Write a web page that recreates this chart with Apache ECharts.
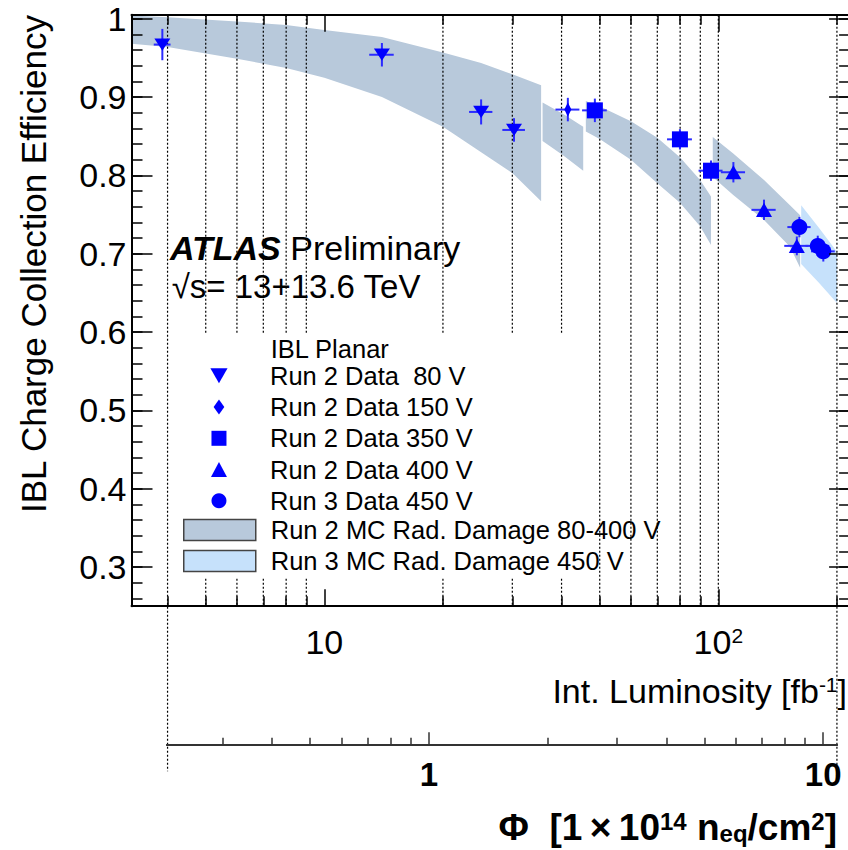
<!DOCTYPE html>
<html>
<head>
<meta charset="utf-8">
<title>IBL Charge Collection Efficiency</title>
<script src="https://cdn.jsdelivr.net/npm/echarts@6.0.0/dist/echarts.min.js"></script>
<style>
  html, body { margin: 0; padding: 0; background: #ffffff; }
  #chart { width: 848px; height: 850px; }
</style>
</head>
<body>
<div id="chart"></div>
<script>
// ---------------------------------------------------------------------------
// Axis ranges and tick values
// ---------------------------------------------------------------------------
const LUMI_MIN = 3.24, LUMI_MAX = 216;      // integrated luminosity [fb^-1]
const EFF_MIN = 0.25, EFF_MAX = 1.005;      // charge collection efficiency
const LUMI_PER_FLUENCE = 18.45;             // fb^-1 per 1e14 n_eq/cm^2
const FLUENCE_MIN = 4 / LUMI_PER_FLUENCE;
const FLUENCE_MAX = 200 / LUMI_PER_FLUENCE;

const lumiLabelTicks = [10, 100];
const lumiMinorTicks = [4, 5, 6, 7, 8, 9, 20, 30, 40, 50, 60, 70, 80, 90, 200];
const lumiGridLines  = [4, 5, 6, 7, 8, 9, 20, 30, 40, 50, 60, 70, 80, 90, 100, 200];
const connectorLumi  = [4, 200];            // ends of the fluence scale
const effLabelTicks  = [0.3, 0.4, 0.5, 0.6, 0.7, 0.8, 0.9, 1.0];
const fluenceLabelTicks = [1, 10];
const fluenceMinorTicks = [0.3, 0.4, 0.5, 0.6, 0.7, 0.8, 0.9, 2, 3, 4, 5, 6, 7, 8, 9];
const effMinorTicks = [];
for (let i = 13; i <= 50; i++) effMinorTicks.push(+(i * 0.02).toFixed(2));

// ---------------------------------------------------------------------------
// Measured points: luminosity, efficiency and their uncertainties
// ---------------------------------------------------------------------------
const run2v80Lumi    = [3.88, 14.0, 25.0, 30.3];
const run2v80Eff     = [0.967, 0.954, 0.881, 0.858];
const run2v80LumiErr = [0.19, 1.0, 1.7, 2.0];
const run2v80EffErr  = [0.020, 0.015, 0.016, 0.015];

const run2v150Lumi    = [41.5];
const run2v150Eff     = [0.884];
const run2v150LumiErr = [2.9];
const run2v150EffErr  = [0.015];

const run2v350Lumi    = [48.6, 79.9, 95.8];
const run2v350Eff     = [0.883, 0.846, 0.806];
const run2v350LumiErr = [3.5, 5.8, 6.7];
const run2v350EffErr  = [0.015, 0.013, 0.013];

const run2v400Lumi    = [109.2, 130.6, 158.2];
const run2v400Eff     = [0.804, 0.756, 0.710];
const run2v400LumiErr = [7.7, 9.2, 11.2];
const run2v400EffErr  = [0.013, 0.013, 0.012];

const run3v450Lumi    = [160.6, 178.8, 184.7];
const run3v450Eff     = [0.734, 0.710, 0.703];
const run3v450LumiErr = [10.9, 12.4, 12.8];
const run3v450EffErr  = [0.013, 0.013, 0.013];

// ---------------------------------------------------------------------------
// Simulated radiation-damage bands (upper / lower edge), one per bias period
// ---------------------------------------------------------------------------
const mc80Lumi = [3.24, 4, 6, 8, 10, 14, 20, 25, 30, 35.5];
const mc80Hi   = [1.004, 1.002, 0.9964, 0.992, 0.9856, 0.9766, 0.957, 0.9434, 0.929, 0.915];
const mc80Lo   = [0.968, 0.964, 0.949, 0.937, 0.9245, 0.900, 0.862, 0.8295, 0.803, 0.767];

const mc150Lumi = [35.8, 40.5, 45.4];
const mc150Hi   = [0.893, 0.878, 0.862];
const mc150Lo   = [0.844, 0.825, 0.806];

const mc350Lumi = [46.1, 50.1, 60, 70, 79.9, 89.9, 95.8];
const mc350Hi   = [0.895, 0.888, 0.869, 0.848, 0.823, 0.794, 0.773];
const mc350Lo   = [0.856, 0.846, 0.820, 0.790, 0.765, 0.735, 0.711];

const mc400Lumi = [96.8, 109.1, 130.6, 152, 161.3];
const mc400Hi   = [0.849, 0.828, 0.794, 0.762, 0.749];
const mc400Lo   = [0.798, 0.775, 0.743, 0.709, 0.682];

const mc450Lumi = [162.3, 180, 200];
const mc450Hi   = [0.762, 0.733, 0.7025];
const mc450Lo   = [0.687, 0.663, 0.637];

// ---------------------------------------------------------------------------
// Styling
// ---------------------------------------------------------------------------
const FONT = "'Liberation Sans', Arial, Helvetica, sans-serif";
const MARKER_BLUE = '#0000ff';
const ERR_BLUE = '#2b2bff';
const RUN2_BAND = '#b8c9db';
const RUN3_BAND = '#c6e1fb';
const FLUENCE_AXIS_Y = 744.3;

const NAME_80  = 'Run 2 Data \u00a080 V';
const NAME_150 = 'Run 2 Data 150 V';
const NAME_350 = 'Run 2 Data 350 V';
const NAME_400 = 'Run 2 Data 400 V';
const NAME_450 = 'Run 3 Data 450 V';
const NAME_MC2 = 'Run 2 MC Rad. Damage 80-400 V';
const NAME_MC3 = 'Run 3 MC Rad. Damage 450 V';

const dataSets = [
  { name: NAME_80,  lumi: run2v80Lumi,  eff: run2v80Eff,  lumiErr: run2v80LumiErr,  effErr: run2v80EffErr,
    symbol: 'path://M0,0 L16,0 L8,14 Z', size: [16, 14] },
  { name: NAME_150, lumi: run2v150Lumi, eff: run2v150Eff, lumiErr: run2v150LumiErr, effErr: run2v150EffErr,
    symbol: 'path://M5,0 L10,7 L5,14 L0,7 Z', size: [10, 14] },
  { name: NAME_350, lumi: run2v350Lumi, eff: run2v350Eff, lumiErr: run2v350LumiErr, effErr: run2v350EffErr,
    symbol: 'path://M0,0 L16,0 L16,16 L0,16 Z', size: [16, 16] },
  { name: NAME_400, lumi: run2v400Lumi, eff: run2v400Eff, lumiErr: run2v400LumiErr, effErr: run2v400EffErr,
    symbol: 'path://M8,0 L16,15 L0,15 Z', size: [16, 15] },
  { name: NAME_450, lumi: run3v450Lumi, eff: run3v450Eff, lumiErr: run3v450LumiErr, effErr: run3v450EffErr,
    symbol: 'circle', size: [16, 16] }
];

const run2Pieces = [
  { lumi: mc80Lumi,  hi: mc80Hi,  lo: mc80Lo },
  { lumi: mc150Lumi, hi: mc150Hi, lo: mc150Lo },
  { lumi: mc350Lumi, hi: mc350Hi, lo: mc350Lo },
  { lumi: mc400Lumi, hi: mc400Hi, lo: mc400Lo }
];
const run3Pieces = [
  { lumi: mc450Lumi, hi: mc450Hi, lo: mc450Lo }
];

// ---------------------------------------------------------------------------
// Series builders
// ---------------------------------------------------------------------------
function bandSeries(name, color, pieces) {
  return {
    type: 'custom', name: name, xAxisIndex: 0, yAxisIndex: 0, z: 1, clip: true, silent: true,
    itemStyle: { color: color },
    data: pieces.map((p, i) => [p.lumi[0], p.hi[0], i]),
    encode: { x: 0, y: 1 },
    renderItem(params, api) {
      const p = pieces[api.value(2)];
      const pts = p.lumi.map((l, j) => api.coord([l, p.hi[j]]));
      for (let j = p.lumi.length - 1; j >= 0; j--) pts.push(api.coord([p.lumi[j], p.lo[j]]));
      return { type: 'polygon', shape: { points: pts }, style: { fill: color } };
    }
  };
}

const gridLineSeries = {
  type: 'custom', xAxisIndex: 0, yAxisIndex: 0, z: 2, silent: true,
  data: lumiGridLines.map(v => [v, EFF_MAX]),
  encode: { x: 0, y: 1 },
  renderItem(params, api) {
    const v = api.value(0);
    const top = api.coord([v, EFF_MAX]);
    const bot = api.coord([v, EFF_MIN]);
    const y2 = connectorLumi.indexOf(v) >= 0 ? FLUENCE_AXIS_Y + 27 : bot[1];
    return {
      type: 'line',
      shape: { x1: top[0], y1: top[1], x2: top[0], y2: y2 },
      style: { stroke: '#000000', lineWidth: 1.2, lineDash: [2, 2] }
    };
  }
};

const errorRows = [];
dataSets.forEach(d => d.lumi.forEach((l, i) => errorRows.push([l, d.eff[i], d.lumiErr[i], d.effErr[i]])));

const errorBarSeries = {
  type: 'custom', xAxisIndex: 0, yAxisIndex: 0, z: 4, silent: true,
  data: errorRows,
  encode: { x: 0, y: 1 },
  renderItem(params, api) {
    const x = api.value(0), y = api.value(1), ex = api.value(2), ey = api.value(3);
    const c = api.coord([x, y]);
    const xl = api.coord([x - ex, y])[0], xh = api.coord([x + ex, y])[0];
    const yl = api.coord([x, y - ey])[1], yh = api.coord([x, y + ey])[1];
    const st = { stroke: ERR_BLUE, lineWidth: 2 };
    return {
      type: 'group',
      children: [
        { type: 'line', shape: { x1: xl, y1: c[1], x2: xh, y2: c[1] }, style: st },
        { type: 'line', shape: { x1: c[0], y1: yh, x2: c[0], y2: yl }, style: st }
      ]
    };
  }
};

const markerSeries = dataSets.map(d => ({
  type: 'scatter', name: d.name, xAxisIndex: 0, yAxisIndex: 0, z: 5,
  symbol: d.symbol, symbolSize: d.size, symbolKeepAspect: true,
  itemStyle: { color: MARKER_BLUE, opacity: 1 },
  data: d.lumi.map((l, i) => [l, d.eff[i]])
}));

// ---------------------------------------------------------------------------
// Axes
// ---------------------------------------------------------------------------
const AXIS_LINE = { show: true, onZero: false, lineStyle: { color: '#000000', width: 2 } };
const NO_LINE = { show: false };
const NO_SPLIT = { show: false };
const NO_LABEL = { show: false };

function lumiAxis(position, ticks, length, withLine, withLabels) {
  return {
    type: 'log', gridIndex: 0, position: position, min: LUMI_MIN, max: LUMI_MAX, logBase: 10, z: 6,
    axisLine: withLine ? AXIS_LINE : NO_LINE,
    axisTick: { show: true, inside: true, length: length, customValues: ticks,
                lineStyle: { color: '#000000', width: 1.5 } },
    axisLabel: withLabels ? {
      show: true, customValues: lumiLabelTicks, margin: 19,
      formatter: v => Math.round(Math.log10(v)) === 1 ? '{n|10}' : '{n|10}{s|' + Math.round(Math.log10(v)) + '}',
      rich: {
        n: { fontFamily: FONT, fontSize: 34, lineHeight: 34, color: '#000000' },
        s: { fontFamily: FONT, fontSize: 21, lineHeight: 12, verticalAlign: 'top', color: '#000000' }
      }
    } : NO_LABEL,
    splitLine: NO_SPLIT
  };
}

function effAxis(position, ticks, length, withLine, withLabels) {
  return {
    type: 'value', gridIndex: 0, position: position, min: EFF_MIN, max: EFF_MAX, z: 6,
    axisLine: withLine ? AXIS_LINE : NO_LINE,
    axisTick: { show: true, inside: true, length: length, customValues: ticks,
                lineStyle: { color: '#000000', width: 1.5 } },
    axisLabel: withLabels ? {
      show: true, customValues: effLabelTicks, margin: 5,
      fontFamily: FONT, fontSize: 34, color: '#000000',
      formatter: v => Math.abs(v - 1) < 1e-9 ? '1' : v.toFixed(1)
    } : NO_LABEL,
    splitLine: NO_SPLIT
  };
}

function fluenceAxis(ticks, length, withLabels) {
  return {
    type: 'log', gridIndex: 1, position: 'bottom', min: FLUENCE_MIN, max: FLUENCE_MAX, logBase: 10, z: 6,
    axisLine: { show: true, onZero: false, lineStyle: { color: '#333333', width: 2 } },
    axisTick: { show: true, inside: true, length: length, customValues: ticks,
                lineStyle: { color: '#333333', width: 1.5 } },
    axisLabel: withLabels ? {
      show: true, customValues: fluenceLabelTicks, margin: 14,
      fontFamily: FONT, fontSize: 33, fontWeight: 'bold', color: '#000000',
      formatter: v => String(Math.round(v))
    } : NO_LABEL,
    splitLine: NO_SPLIT
  };
}

// ---------------------------------------------------------------------------
// Chart
// ---------------------------------------------------------------------------
const chart = echarts.init(document.getElementById('chart'), null, { renderer: 'svg', width: 848, height: 850 });

const option = {
  animation: false,
  backgroundColor: '#ffffff',
  grid: [
    { left: 131.5, top: 14.8, width: 718.6, height: 591.4, containLabel: false, outerBoundsMode: 'none' },
    { left: 167, top: 700, width: 670, height: FLUENCE_AXIS_Y - 700, containLabel: false, outerBoundsMode: 'none' }
  ],
  xAxis: [
    lumiAxis('bottom', lumiLabelTicks, 17, true, true),
    lumiAxis('top', lumiLabelTicks, 17, true, false),
    lumiAxis('bottom', lumiMinorTicks, 10, false, false),
    lumiAxis('top', lumiMinorTicks, 10, false, false),
    fluenceAxis(fluenceLabelTicks, 12, true),
    fluenceAxis(fluenceMinorTicks, 6.5, false)
  ],
  yAxis: [
    effAxis('left', effLabelTicks, 21, true, true),
    effAxis('left', effMinorTicks, 11, false, false),
    effAxis('right', effLabelTicks, 21, true, false),
    effAxis('right', effMinorTicks, 11, false, false),
    { type: 'value', gridIndex: 1, show: false, min: 0, max: 1 }
  ],
  legend: [
    {
      // marker icons are narrower than the 72px slot, so the block starts at the first icon
      data: dataSets.map(d => ({ name: d.name })),
      orient: 'vertical', left: 210.4, top: 362.8, padding: 0,
      itemWidth: 72, itemHeight: 15, itemGap: 5.25, selectedMode: false, z: 8,
      textStyle: { fontFamily: FONT, fontSize: 25.5, lineHeight: 25, color: '#000000', padding: [0, 0, 0, 10] }
    },
    {
      data: [{ name: NAME_MC2, icon: 'rect' }, { name: NAME_MC3, icon: 'rect' }],
      orient: 'vertical', left: 183, top: 517, padding: 0,
      itemWidth: 72, itemHeight: 21, itemGap: 5, selectedMode: false, z: 8,
      itemStyle: { borderColor: '#444444', borderWidth: 1.5 },
      textStyle: { fontFamily: FONT, fontSize: 25.5, lineHeight: 25, color: '#000000', padding: [0, 0, 0, 10] }
    }
  ],
  graphic: [
    // legend background
    { type: 'rect', z: 3, silent: true, shape: { x: 180, y: 333, width: 410, height: 244 },
      style: { fill: '#ffffff' } },
    { type: 'text', z: 9, x: 270.7, y: 348.5, silent: true,
      style: { text: 'IBL Planar', fontFamily: FONT, fontSize: 25.5, fill: '#000000', verticalAlign: 'middle' } },
    // experiment label
    { type: 'text', z: 9, x: 170, y: 248, silent: true,
      style: {
        text: '{a|ATLAS} {p|Preliminary}', verticalAlign: 'middle',
        rich: {
          a: { fontFamily: FONT, fontSize: 34, fontWeight: 'bold', fontStyle: 'italic', fill: '#000000' },
          p: { fontFamily: FONT, fontSize: 34, fill: '#000000' }
        },
        fontFamily: FONT, fontSize: 34, fill: '#000000'
      } },
    { type: 'text', z: 9, x: 171.7, y: 286, silent: true,
      style: { text: '\u221As= 13+13.6 TeV', fontFamily: FONT, fontSize: 33, fill: '#000000', verticalAlign: 'middle' } },
    // axis titles
    { type: 'text', z: 9, x: 33, y: 15, rotation: Math.PI / 2, silent: true,
      style: { text: 'IBL Charge Collection Efficiency', fontFamily: FONT, fontSize: 35, fill: '#000000',
               align: 'right', verticalAlign: 'middle' } },
    { type: 'text', z: 9, x: 847, y: 691, silent: true,
      style: {
        text: '{t|Int. Luminosity [fb}{s|-1}{t|]}', align: 'right', verticalAlign: 'middle',
        fontFamily: FONT, fontSize: 34, fill: '#000000',
        rich: {
          t: { fontFamily: FONT, fontSize: 34, lineHeight: 34, fill: '#000000' },
          s: { fontFamily: FONT, fontSize: 21, lineHeight: 14, verticalAlign: 'top', fill: '#000000' }
        }
      } },
    { type: 'text', z: 9, x: 837, y: 827, silent: true,
      style: {
        text: '{b|\u03A6  [1\u2009\u00D7\u200910}{p|14}{b| n}{q|eq}{b|/cm}{p|2}{b|]}', align: 'right', verticalAlign: 'middle',
        fontFamily: FONT, fontSize: 37, fontWeight: 'bold', fill: '#000000',
        rich: {
          b: { fontFamily: FONT, fontSize: 37, fontWeight: 'bold', lineHeight: 36, fill: '#000000' },
          p: { fontFamily: FONT, fontSize: 24, fontWeight: 'bold', lineHeight: 14, verticalAlign: 'top', fill: '#000000' },
          q: { fontFamily: FONT, fontSize: 24, fontWeight: 'bold', lineHeight: 14, verticalAlign: 'bottom', fill: '#000000' }
        }
      } }
  ],
  series: [
    bandSeries(NAME_MC2, RUN2_BAND, run2Pieces),
    bandSeries(NAME_MC3, RUN3_BAND, run3Pieces),
    gridLineSeries,
    errorBarSeries
  ].concat(markerSeries)
};

chart.setOption(option);
</script>
</body>
</html>
